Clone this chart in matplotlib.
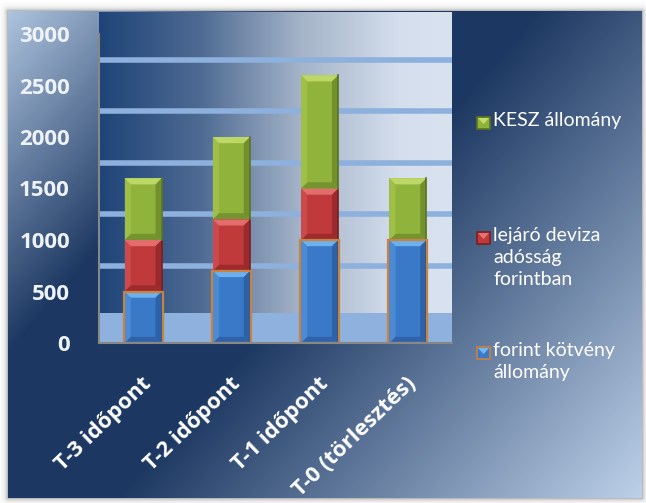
import numpy as np
import matplotlib
matplotlib.use("Agg")
import matplotlib.pyplot as plt
from matplotlib.colors import LinearSegmentedColormap
from matplotlib.patches import Polygon, Rectangle

W, H = 646, 503

categories = ["T-3 időpont", "T-2 időpont", "T-1 időpont", "T-0 (törlesztés)"]
forint_kotveny = [500, 700, 1000, 1000]
lejaro_deviza = [500, 500, 500, 0]
kesz_allomany = [600, 800, 1100, 600]
legend_labels = ["KESZ állomány", "lejáró deviza\nadósság\nforintban", "forint kötvény\nállomány"]
y_ticks = [0, 500, 1000, 1500, 2000, 2500, 3000]
grid_levels = [750, 1250, 1750, 2250, 2750]

# face, light bevel, dark bevel
blue = ("#3a78c8", "#72b8f2", "#24508c")
red = ("#c0393b", "#e87272", "#7c1f20")
green = ("#90b33b", "#c3dd6c", "#5b7522")
orange = "#c98240"

plt.rcParams["font.family"] = ["Lato", "DejaVu Sans"]
bold_font = ["Open Sans", "DejaVu Sans"]

fig = plt.figure(figsize=(W / 100, H / 100), dpi=100)
fig.patch.set_facecolor("white")

# outer chart frame with diagonal gradient and soft shadow
yy, xx = np.mgrid[0:H, 0:W]
fx0, fx1, fy0, fy1 = 8, 642, 11, 498
u = (xx - fx0) / (fx1 - fx0)
v = (yy - fy0) / (fy1 - fy0)
t = np.clip(0.6 * u + 0.4 * v, 0, 1)
frame_cmap = LinearSegmentedColormap.from_list(
    "frame", [(0, "#adc3de"), (0.28, "#1c3761"), (0.5, "#1c3761"), (1, "#bdd1e9")])
rgb = frame_cmap(t)[..., :3]
inside = (xx >= fx0) & (xx < fx1) & (yy >= fy0) & (yy < fy1)
ddx = np.maximum(np.maximum(fx0 - xx, xx - (fx1 - 1)), 0)
ddy = np.maximum(np.maximum(fy0 - yy, yy - (fy1 - 1)), 0)
d = np.hypot(ddx, ddy)
shade = 1 - 0.4 * np.exp(-d / 2.5)
img = np.where(inside[..., None], rgb, np.repeat(shade[..., None], 3, axis=2))
bg = fig.add_axes([0, 0, 1, 1])
bg.imshow(img, aspect="auto", interpolation="nearest")
bg.axis("off")

# plot area
px_per_unit = 309 / 3000
ymax = (343 - 12) / px_per_unit
ax = fig.add_axes([99 / W, 1 - 343 / H, (452 - 99) / W, (343 - 12) / H])
ax.set_xlim(-0.5, 3.5)
ax.set_ylim(0, ymax)

plot_cmap = LinearSegmentedColormap.from_list(
    "plotbg", [(0, "#1e4477"), (0.29, "#4f6b93"), (0.57, "#a4b3c8"), (0.85, "#d4deed"), (1, "#d9e3f0")])
ax.imshow(np.linspace(0, 1, 256)[None, :], extent=[-0.5, 3.5, 0, ymax], aspect="auto",
          cmap=plot_cmap, zorder=0)
ax.axhspan(0, 290, color="#8fb1de", zorder=1, lw=0)
for g in grid_levels:
    ax.axhline(g, color="#8db0dd", lw=4, zorder=1)

x = np.arange(len(categories))
bw = 0.42
bx, by = 0.07, 60


def bevel(rect, colors):
    face, light, dark = colors
    x0, y0 = rect.get_x(), rect.get_y()
    x1, y1 = x0 + rect.get_width(), y0 + rect.get_height()
    if rect.get_height() <= 0:
        return
    b = min(by, rect.get_height() / 2)
    polys = [
        ([(x0, y1), (x1, y1), (x1 - bx, y1 - b), (x0 + bx, y1 - b)], light, 0.9),
        ([(x0, y0), (x1, y0), (x1 - bx, y0 + b), (x0 + bx, y0 + b)], dark, 0.5),
        ([(x0, y0), (x0, y1), (x0 + bx, y1 - b), (x0 + bx, y0 + b)], light, 0.3),
        ([(x1, y0), (x1, y1), (x1 - bx, y1 - b), (x1 - bx, y0 + b)], dark, 0.55),
    ]
    for pts, c, a in polys:
        ax.add_patch(Polygon(pts, closed=True, facecolor=c, alpha=a, lw=0, zorder=4))
    ax.plot([x1, x1], [y0, y1], color=dark, lw=1.2, zorder=4)


bars_blue = ax.bar(x, forint_kotveny, width=bw, color=blue[0], lw=0, zorder=3)
bottom2 = np.array(forint_kotveny)
bars_red = ax.bar(x, lejaro_deviza, width=bw, bottom=bottom2, color=red[0], lw=0, zorder=3)
bottom3 = bottom2 + np.array(lejaro_deviza)
bars_green = ax.bar(x, kesz_allomany, width=bw, bottom=bottom3, color=green[0], lw=0, zorder=3)

for bars, cols in [(bars_blue, blue), (bars_red, red), (bars_green, green)]:
    for r in bars:
        bevel(r, cols)
for r in bars_blue:
    ax.add_patch(Rectangle((r.get_x() - 0.01, r.get_y()), r.get_width() + 0.02, r.get_height(),
                           fill=False, edgecolor=orange, lw=1.6, zorder=5))

for s in ["top", "right"]:
    ax.spines[s].set_visible(False)
for s in ["left", "bottom"]:
    ax.spines[s].set_color("#878787")
    ax.spines[s].set_linewidth(1.5)
    ax.spines[s].set_zorder(6)
ax.spines["left"].set_bounds(0, 3000)

ax.set_yticks(y_ticks)
ax.set_yticklabels([str(v) for v in y_ticks], fontsize=16, fontweight="bold",
                   color="#eef3f9", family=bold_font)
ax.tick_params(axis="y", length=0, pad=21)
ax.set_xticks([])

# rotated category labels, right end just below each bar
for i, lab in enumerate(categories):
    ax.annotate(lab, xy=(x[i], 0), xycoords="data", xytext=(4, -27), textcoords="offset points",
                rotation=44, ha="right", va="center", rotation_mode="anchor",
                fontsize=16, fontweight="bold", color="white", family=bold_font,
                annotation_clip=False)

# legend on the right
legend_rows = [123, 238, 353]
legend_cols = [green, red, blue]
for yc, lab, cols in zip(legend_rows, legend_labels, legend_cols):
    edge = orange if cols is blue else cols[2]
    fig.patches.append(Rectangle((477 / W, 1 - (yc + 6) / H), 13 / W, 12 / H,
                                 transform=fig.transFigure, facecolor=cols[0],
                                 edgecolor=edge, lw=1.2))
    fig.patches.append(Polygon([(478 / W, 1 - (yc - 5) / H), (489 / W, 1 - (yc - 5) / H),
                                (483.5 / W, 1 - (yc + 1) / H)], closed=True,
                               transform=fig.transFigure, facecolor=cols[1], lw=0))
    fig.text(493 / W, 1 - (yc - 11) / H, lab, ha="left", va="top", fontsize=14,
             color="white", linespacing=1.35)

fig.savefig("out.png", dpi=100)
